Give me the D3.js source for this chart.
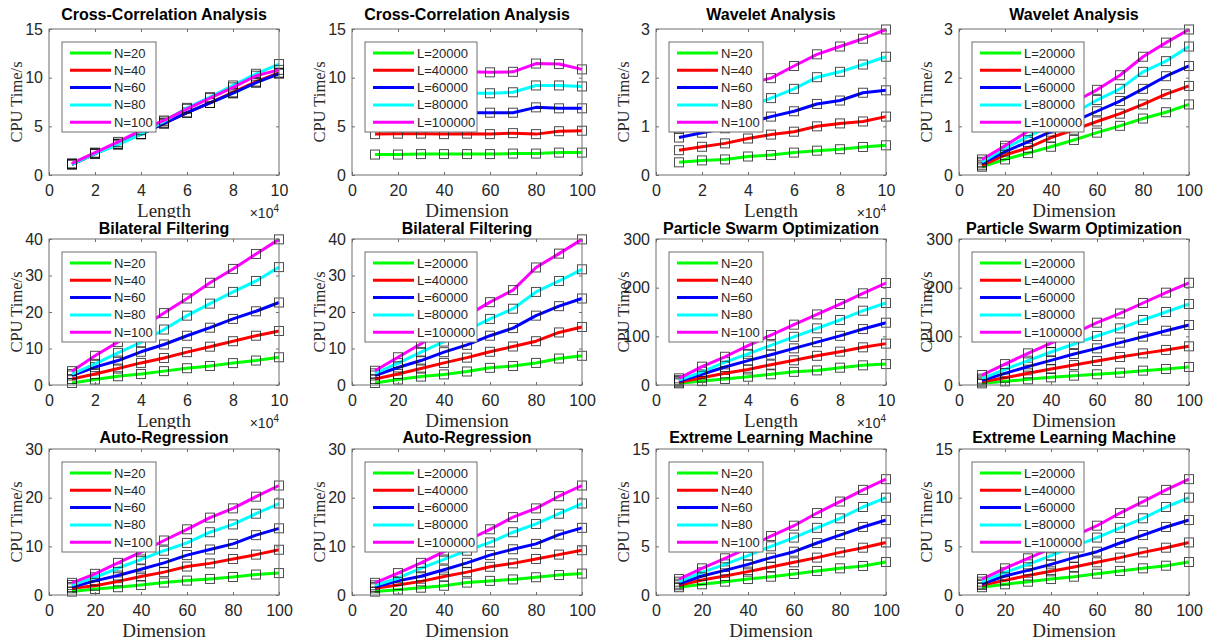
<!DOCTYPE html>
<html>
<head>
<meta charset="utf-8">
<script src="https://cdn.jsdelivr.net/npm/d3@7"></script>
<style>
  html, body { margin: 0; padding: 0; background: #fff; }
  svg { display: block; }
</style>
</head>
<body>
<script>
const width = 1207;
const height = 642;

// x values (Length is in units of 10^4)
const lengthX = [1, 2, 3, 4, 5, 6, 7, 8, 9, 10];
const dimX = [10, 20, 30, 40, 50, 60, 70, 80, 90, 100];
const lengthTicks = [0, 2, 4, 6, 8, 10];
const dimTicks = [0, 20, 40, 60, 80, 100];

const nNames = ["N=20", "N=40", "N=60", "N=80", "N=100"];
const lNames = ["L=20000", "L=40000", "L=60000", "L=80000", "L=100000"];
const colors = ["#00ff00", "#ff0000", "#0000ff", "#00ffff", "#ff00ff"];

// CPU time (s), one row per series, in legend order
const ccLength = [
  [1.1, 2.2, 3.2, 4.2, 5.3, 6.4, 7.4, 8.4, 9.5, 10.5],
  [1.1, 2.2, 3.2, 4.2, 5.3, 6.4, 7.4, 8.5, 9.6, 10.5],
  [1.1, 2.2, 3.2, 4.2, 5.3, 6.4, 7.4, 8.4, 9.5, 10.4],
  [1.1, 2.2, 3.1, 4.2, 5.5, 6.9, 8.0, 9.2, 10.4, 11.4],
  [1.2, 2.3, 3.4, 4.6, 5.6, 6.8, 7.9, 9.0, 10.2, 10.8]
];
const ccDim = [
  [2.1, 2.1, 2.15, 2.15, 2.15, 2.15, 2.2, 2.2, 2.3, 2.3],
  [4.2, 4.25, 4.25, 4.2, 4.25, 4.2, 4.3, 4.2, 4.5, 4.55],
  [6.3, 6.35, 6.3, 6.4, 6.4, 6.4, 6.4, 6.95, 6.85, 6.85],
  [8.3, 8.3, 8.35, 8.3, 8.4, 8.4, 8.5, 9.2, 9.2, 9.1],
  [10.5, 10.6, 10.5, 10.6, 10.6, 10.55, 10.6, 11.45, 11.4, 10.85]
];
const wavLength = [
  [0.26, 0.30, 0.32, 0.38, 0.41, 0.46, 0.50, 0.53, 0.575, 0.61],
  [0.51, 0.58, 0.65, 0.75, 0.83, 0.89, 1.0, 1.06, 1.1, 1.2],
  [0.77, 0.87, 0.96, 1.07, 1.2, 1.31, 1.46, 1.53, 1.69, 1.74],
  [0.95, 1.1, 1.25, 1.4, 1.58, 1.77, 2.01, 2.12, 2.27, 2.43],
  [1.3, 1.5, 1.7, 1.88, 1.99, 2.24, 2.48, 2.64, 2.8, 2.99]
];
const wavDim = [
  [0.17, 0.32, 0.45, 0.58, 0.72, 0.87, 1.01, 1.16, 1.29, 1.45],
  [0.2, 0.41, 0.56, 0.77, 0.93, 1.10, 1.26, 1.45, 1.66, 1.83],
  [0.24, 0.48, 0.68, 0.89, 1.1, 1.31, 1.52, 1.77, 2.03, 2.24],
  [0.27, 0.55, 0.79, 1.02, 1.27, 1.54, 1.77, 2.12, 2.34, 2.64],
  [0.32, 0.6, 0.9, 1.18, 1.5, 1.75, 2.05, 2.43, 2.72, 2.99]
];
const blfLength = [
  [0.55, 1.5, 2.4, 3.0, 3.8, 4.6, 5.2, 6.0, 6.7, 7.6],
  [1.65, 3.0, 4.5, 6.05, 7.4, 9.0, 10.5, 12.0, 13.5, 14.8],
  [2.6, 4.9, 6.7, 9.1, 11.1, 13.5, 15.7, 18.1, 20.2, 22.6],
  [3.0, 5.8, 8.8, 11.7, 15.2, 19.0, 22.3, 25.5, 28.5, 32.3],
  [3.8, 8.0, 11.8, 15.6, 19.7, 23.7, 28.0, 31.8, 35.9, 39.9]
];
const blfDim = [
  [0.55, 1.5, 2.3, 2.9, 3.7, 4.7, 5.2, 6.05, 7.25, 8.0],
  [1.65, 3.0, 4.5, 6.05, 7.5, 9.1, 10.55, 12.0, 14.4, 15.9],
  [2.6, 4.8, 6.7, 9.0, 11.0, 13.5, 15.6, 19.0, 21.6, 23.7],
  [3.2, 6.0, 9.0, 11.9, 15.0, 18.1, 20.9, 25.5, 28.5, 31.7],
  [3.9, 7.6, 11.3, 15.2, 19.0, 22.7, 26.0, 32.2, 36.0, 39.9]
];
const psoLength = [
  [3.4, 8, 12.3, 17, 22, 27, 30, 35.6, 40.4, 43],
  [5.5, 15, 24, 32, 41.8, 50.7, 60, 68.5, 77.4, 85],
  [8, 22, 37, 50, 62.3, 75.3, 88, 101, 115, 128],
  [10, 27, 47, 64, 81.5, 99, 116.4, 133.6, 152.7, 168.5],
  [13.7, 37.7, 58, 80.8, 102.7, 124, 145, 166.4, 188.4, 209.6]
];
const psoDim = [
  [3.4, 7.5, 11.6, 15.7, 19.2, 22, 25.3, 29.5, 32.9, 37],
  [6.8, 15, 24, 32.9, 41, 49.3, 57.5, 65, 72, 79.5],
  [9.6, 24, 37.7, 50.7, 63.7, 75.3, 87, 99.3, 111.6, 123.3],
  [13, 32, 50, 67.8, 84.2, 100.7, 116.4, 133.6, 150, 166.4],
  [20.5, 43, 65, 86, 106, 128, 147, 168.5, 189.7, 210]
];
const arN = [
  [0.7, 1.24, 1.6, 2.06, 2.55, 2.96, 3.3, 3.7, 4.2, 4.5],
  [1.38, 1.9, 2.8, 3.8, 4.7, 5.85, 6.5, 7.4, 8.3, 9.3],
  [1.65, 2.9, 4.0, 5.3, 6.6, 8.2, 9.35, 10.5, 12.3, 13.7],
  [2.06, 3.65, 5.5, 7.3, 9.1, 10.7, 12.9, 14.5, 16.7, 18.8],
  [2.5, 4.35, 6.6, 8.8, 11.2, 13.5, 15.9, 17.8, 20.2, 22.5]
];
const arL = [
  [0.7, 1.1, 1.5, 1.9, 2.55, 2.9, 3.2, 3.65, 4.1, 4.4],
  [1.38, 2.06, 2.8, 3.8, 4.7, 5.8, 6.5, 7.4, 8.3, 9.2],
  [1.65, 2.9, 3.85, 5.2, 6.6, 8.2, 9.4, 10.5, 12.4, 13.8],
  [2.0, 3.45, 5.5, 7.3, 9.1, 10.8, 12.9, 14.6, 16.7, 18.8],
  [2.5, 4.5, 6.6, 8.9, 11.2, 13.5, 16.0, 17.8, 20.3, 22.5]
];
const elmN = [
  [0.8, 1.1, 1.37, 1.64, 1.88, 2.16, 2.47, 2.74, 2.98, 3.39],
  [1.0, 1.54, 1.95, 2.4, 2.88, 3.36, 3.84, 4.38, 4.86, 5.4],
  [1.16, 1.95, 2.53, 3.15, 3.84, 4.45, 5.34, 6.16, 6.99, 7.7],
  [1.37, 2.33, 3.15, 4.04, 5.0, 5.9, 6.9, 7.88, 9.04, 10.0],
  [1.64, 2.74, 3.77, 4.85, 6.06, 7.12, 8.42, 9.6, 10.8, 11.9]
];
const elmL = [
  [0.8, 1.1, 1.37, 1.64, 1.88, 2.19, 2.47, 2.74, 3.01, 3.39],
  [1.03, 1.5, 2.0, 2.43, 2.88, 3.36, 3.84, 4.38, 4.86, 5.4],
  [1.16, 1.95, 2.53, 3.15, 3.84, 4.45, 5.34, 6.16, 6.99, 7.7],
  [1.37, 2.33, 3.15, 4.04, 5.0, 5.9, 6.9, 7.88, 9.04, 10.0],
  [1.64, 2.74, 3.77, 4.8, 6.06, 7.12, 8.42, 9.6, 10.8, 11.9]
];

const titles = [
  "Cross-Correlation Analysis", "Cross-Correlation Analysis", "Wavelet Analysis", "Wavelet Analysis",
  "Bilateral Filtering", "Bilateral Filtering", "Particle Swarm Optimization", "Particle Swarm Optimization",
  "Auto-Regression", "Auto-Regression", "Extreme Learning Machine", "Extreme Learning Machine"
];
const yTickSets = [
  [0, 5, 10, 15], [0, 5, 10, 15], [0, 1, 2, 3], [0, 1, 2, 3],
  [0, 10, 20, 30, 40], [0, 10, 20, 30, 40], [0, 100, 200, 300], [0, 100, 200, 300],
  [0, 10, 20, 30], [0, 10, 20, 30], [0, 5, 10, 15], [0, 5, 10, 15]
];
const panelData = [ccLength, ccDim, wavLength, wavDim, blfLength, blfDim, psoLength, psoDim, arN, arL, elmN, elmL];
// which panels use Length on x (others use Dimension)
const usesLength = [true, false, true, false, true, false, true, false, false, false, false, false];

// layout
const colLeft = [49, 352, 656, 959];
const rowTop = [29, 239, 449];
const plotW = 230, plotH = 146;
const titleGap = [9, 5, 6];
const rowBand = [[0, 218], [218, 429], [429, 642]];

const sans = "'Liberation Sans', Arial, sans-serif";
const serif = "'Liberation Serif', 'Times New Roman', serif";
const textColor = "#262626";
const boxColor = "#6e6e6e";

const svg = d3.select("body").append("svg")
  .attr("width", width)
  .attr("height", height)
  .style("background", "#fff");

svg.append("defs").selectAll("clipPath")
  .data(rowBand)
  .join("clipPath")
  .attr("id", (d, i) => `row${i}`)
  .append("rect")
  .attr("x", 0).attr("y", d => d[0])
  .attr("width", width).attr("height", d => d[1] - d[0]);

panelData.forEach((series, p) => {
  const r = Math.floor(p / 4), c = p % 4;
  const left = colLeft[c], top = rowTop[r];
  const isLen = usesLength[p];
  const xs = isLen ? lengthX : dimX;
  const xTicks = isLen ? lengthTicks : dimTicks;
  const yTicks = yTickSets[p];
  const names = (c % 2 === 0) ? nNames : lNames;

  const x = d3.scaleLinear().domain([xTicks[0], xTicks[xTicks.length - 1]]).range([left, left + plotW]);
  const y = d3.scaleLinear().domain([yTicks[0], yTicks[yTicks.length - 1]]).range([top + plotH, top]);

  const g = svg.append("g").attr("clip-path", `url(#row${r})`);

  // series
  const line = d3.line().x((d, i) => x(xs[i])).y(d => y(d));
  series.forEach((vals, s) => {
    g.append("path")
      .attr("d", line(vals))
      .attr("fill", "none")
      .attr("stroke", colors[s])
      .attr("stroke-width", 3)
      .attr("stroke-linejoin", "round");
    g.append("g")
      .selectAll("rect")
      .data(vals)
      .join("rect")
      .attr("x", (d, i) => x(xs[i]) - 4.5)
      .attr("y", d => y(d) - 4.5)
      .attr("width", 9)
      .attr("height", 9)
      .attr("fill", "none")
      .attr("stroke", "#111")
      .attr("stroke-opacity", 0.75)
      .attr("stroke-width", 1);
  });

  // axes box
  g.append("rect")
    .attr("x", left).attr("y", top)
    .attr("width", plotW).attr("height", plotH)
    .attr("fill", "none")
    .attr("stroke", boxColor)
    .attr("stroke-width", 1);

  const styleAxis = sel => {
    sel.select(".domain").remove();
    sel.selectAll(".tick line").attr("stroke", boxColor);
    sel.selectAll("text")
      .attr("fill", textColor)
      .style("font-family", sans)
      .style("font-size", "16px");
  };

  g.append("g")
    .attr("transform", `translate(0,${top + plotH})`)
    .call(d3.axisBottom(x).tickValues(xTicks).tickFormat(d3.format("d")).tickSizeInner(-3).tickSizeOuter(0).tickPadding(10))
    .call(styleAxis);
  g.append("g")
    .attr("transform", `translate(0,${top})`)
    .call(d3.axisTop(x).tickValues(xTicks).tickFormat("").tickSizeInner(-3).tickSizeOuter(0))
    .call(styleAxis);
  g.append("g")
    .attr("transform", `translate(${left},0)`)
    .call(d3.axisLeft(y).tickValues(yTicks).tickFormat(d3.format("d")).tickSizeInner(-3).tickSizeOuter(0).tickPadding(6))
    .call(styleAxis);
  g.append("g")
    .attr("transform", `translate(${left + plotW},0)`)
    .call(d3.axisRight(y).tickValues(yTicks).tickFormat("").tickSizeInner(-3).tickSizeOuter(0))
    .call(styleAxis);

  // legend
  const legW = names === nNames ? 94 : 112;
  const leg = g.append("g").attr("transform", `translate(${left + 13},${top + 13})`);
  leg.append("rect")
    .attr("width", legW).attr("height", 90)
    .attr("fill", "#fff")
    .attr("stroke", boxColor)
    .attr("stroke-width", 1);
  const item = leg.selectAll("g.item")
    .data(names)
    .join("g")
    .attr("class", "item")
    .attr("transform", (d, i) => `translate(0,${11 + i * 17.3})`);
  item.append("line")
    .attr("x1", 8).attr("x2", 49)
    .attr("stroke", (d, i) => colors[i])
    .attr("stroke-width", 3);
  item.append("text")
    .attr("x", 52).attr("dy", "0.35em")
    .attr("fill", textColor)
    .style("font-family", sans)
    .style("font-size", "13px")
    .text(d => d);

  // title
  g.append("text")
    .attr("x", left + plotW / 2)
    .attr("y", top - titleGap[r])
    .attr("text-anchor", "middle")
    .attr("fill", "#000")
    .style("font-family", sans)
    .style("font-weight", "bold")
    .style("font-size", "16px")
    .text(titles[p]);

  // axis labels
  g.append("text")
    .attr("x", left + plotW / 2)
    .attr("y", top + plotH + 42)
    .attr("text-anchor", "middle")
    .attr("fill", textColor)
    .style("font-family", serif)
    .style("font-size", "19px")
    .text(isLen ? "Length" : "Dimension");

  g.append("text")
    .attr("transform", `translate(${left - 27},${top + plotH / 2}) rotate(-90)`)
    .attr("text-anchor", "middle")
    .attr("fill", textColor)
    .style("font-family", serif)
    .style("font-size", "16.5px")
    .text("CPU Time/s");

  if (isLen) {
    const ex = g.append("text")
      .attr("x", left + plotW)
      .attr("y", top + plotH + 43)
      .attr("text-anchor", "end")
      .attr("fill", textColor)
      .style("font-family", sans)
      .style("font-size", "14px");
    ex.append("tspan").text("\u00d710");
    ex.append("tspan").attr("dy", -6).style("font-size", "10px").text("4");
  }
});
</script>
</body>
</html>
